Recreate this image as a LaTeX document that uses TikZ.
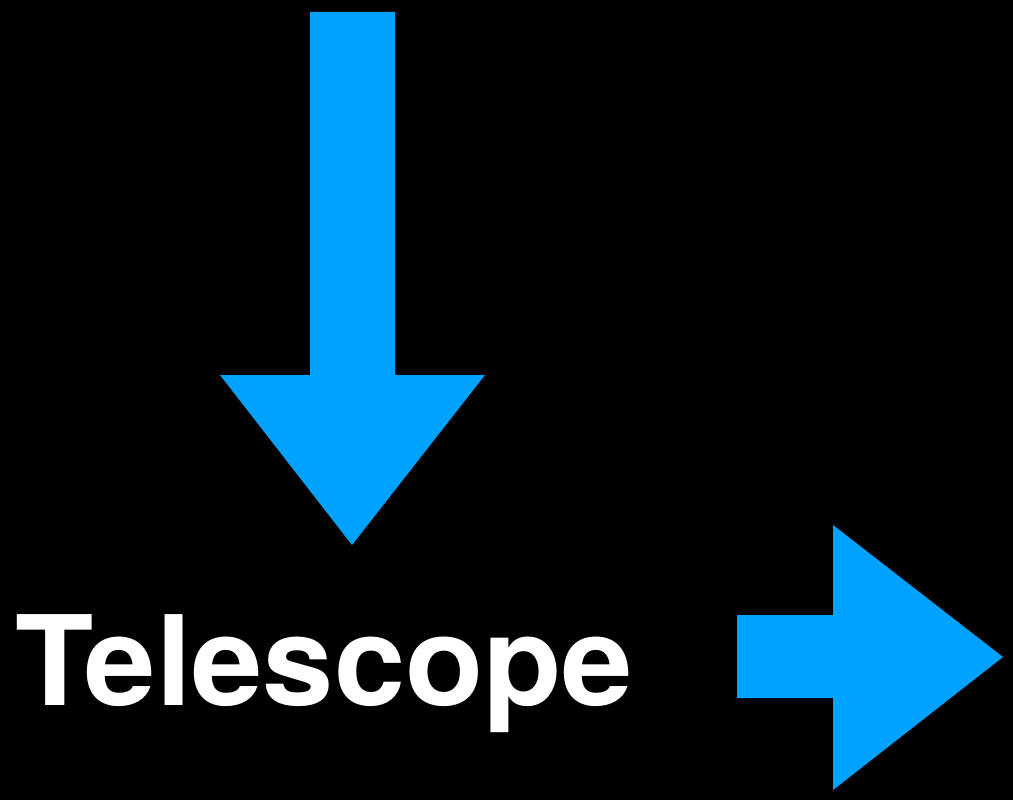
\documentclass[tikz,border=0pt]{standalone}
\usepackage{fontspec}
\setmainfont{TeX Gyre Heros}
\usetikzlibrary{positioning}
\definecolor{skyblue}{HTML}{00A2FF}

\begin{document}
\begin{tikzpicture}[x=0.02cm,y=-0.02cm,
  blockarrow/.style={fill=skyblue},
  bigtext/.style={text=white,inner sep=0pt,font=\fontsize{71}{80}\selectfont\bfseries\addfontfeature{FakeStretch=1.027}}]
\fill[black] (0,0) rectangle (1013,800);
% arrow coming down
\fill[blockarrow] (310,12)--(395,12)--(395,375)--(485,375)--(352,545)--(220,375)--(310,375)--cycle;
% arrow going right
\fill[blockarrow] (737,615)--(833,615)--(833,525)--(1003,657)--(833,790)--(833,698)--(737,698)--cycle;
\node[bigtext,anchor=base west] (scope) at (15,705) {Telescope};
\end{tikzpicture}
\end{document}
